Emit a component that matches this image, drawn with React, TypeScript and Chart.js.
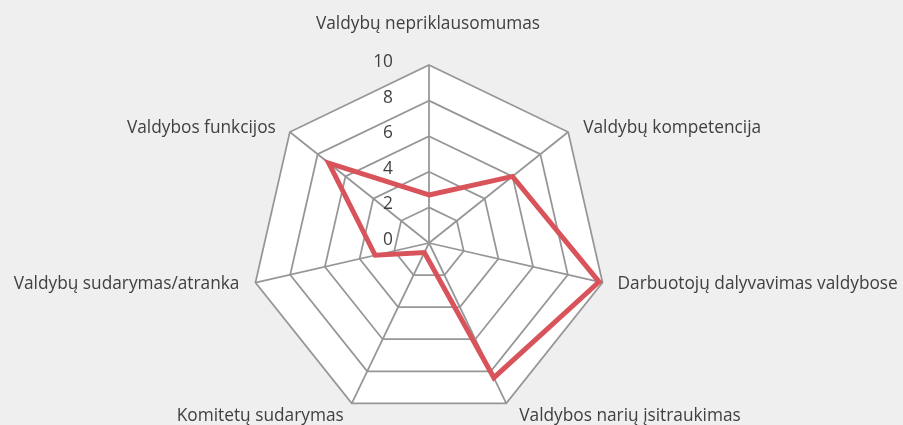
import React, { useEffect, useRef } from "react";
import { Chart, registerables } from "chart.js";

Chart.register(...registerables);

const categories: string[] = [
  "Valdybų nepriklausomumas",
  "Valdybų kompetencija",
  "Darbuotojų dalyvavimas valdybose",
  "Valdybos narių įsitraukimas",
  "Komitetų sudarymas",
  "Valdybų sudarymas/atranka",
  "Valdybos funkcijos",
];

const seriesValues: number[] = [2.7, 6.0, 9.8, 8.4, 0.6, 3.1, 7.2];

const tickValues: number[] = [0, 2, 4, 6, 8, 10];

// label placement relative to each outer vertex: [dx, dy, align]
const labelOffsets: [number, number, CanvasTextAlign][] = [
  [-1, -41, "center"],
  [15, -4, "left"],
  [15, 1, "left"],
  [13, 13, "left"],
  [-8, 13, "right"],
  [-16, 1, "right"],
  [-14, -4, "right"],
];

const FONT = "'Open Sans', 'DejaVu Sans', sans-serif";
const TEXT_COLOR = "#404040";
const BG = "#efefef";

const bgPlugin = {
  id: "radarBg",
  beforeDraw(chart: any) {
    const { ctx } = chart;
    const scale = chart.scales.r;
    ctx.save();
    ctx.fillStyle = BG;
    ctx.fillRect(0, 0, chart.width, chart.height);
    ctx.beginPath();
    for (let i = 0; i < categories.length; i++) {
      const p = scale.getPointPosition(i, scale.drawingArea);
      if (i === 0) ctx.moveTo(p.x, p.y);
      else ctx.lineTo(p.x, p.y);
    }
    ctx.closePath();
    ctx.fillStyle = "#ffffff";
    ctx.fill();
    ctx.restore();
  },
  afterDraw(chart: any) {
    const { ctx } = chart;
    const scale = chart.scales.r;
    ctx.save();
    ctx.fillStyle = TEXT_COLOR;
    ctx.font = `17.3px ${FONT}`;
    ctx.textBaseline = "middle";
    // tick labels
    ctx.textAlign = "right";
    tickValues.forEach((v) => {
      const d = scale.getDistanceFromCenterForValue(v);
      ctx.fillText(String(v), scale.xCenter - 36, scale.yCenter - d - 3);
    });
    // point labels
    categories.forEach((label, i) => {
      const p = scale.getPointPosition(i, scale.drawingArea);
      const [dx, dy, align] = labelOffsets[i];
      ctx.textAlign = align;
      ctx.fillText(label, p.x + dx, p.y + dy);
    });
    ctx.restore();
  },
};

export default function App() {
  const ref = useRef<HTMLCanvasElement | null>(null);
  useEffect(() => {
    document.body.style.margin = "0";
    document.body.style.background = BG;
    const chart = new Chart(ref.current as HTMLCanvasElement, {
      type: "radar",
      data: {
        labels: categories,
        datasets: [
          {
            data: seriesValues,
            borderColor: "#d9535b",
            borderWidth: 5,
            backgroundColor: "rgba(0,0,0,0)",
            fill: false,
            pointRadius: 0,
            pointHoverRadius: 0,
            borderJoinStyle: "miter",
          },
        ],
      },
      options: {
        responsive: false,
        animation: false,
        layout: { padding: { top: 65, bottom: 4, left: 0, right: 45 } },
        plugins: { legend: { display: false }, tooltip: { enabled: false } },
        scales: {
          r: {
            min: 0,
            max: 10,
            ticks: { stepSize: 2, display: false },
            pointLabels: { display: false },
            grid: { color: "#969696", lineWidth: 1.75 },
            angleLines: { color: "#969696", lineWidth: 1.75 },
          },
        },
      },
      plugins: [bgPlugin],
    });
    return () => chart.destroy();
  }, []);
  return (
    <div style={{ width: 903, height: 425 }}>
      <canvas ref={ref} width={903} height={425} style={{ display: "block" }} />
    </div>
  );
}
